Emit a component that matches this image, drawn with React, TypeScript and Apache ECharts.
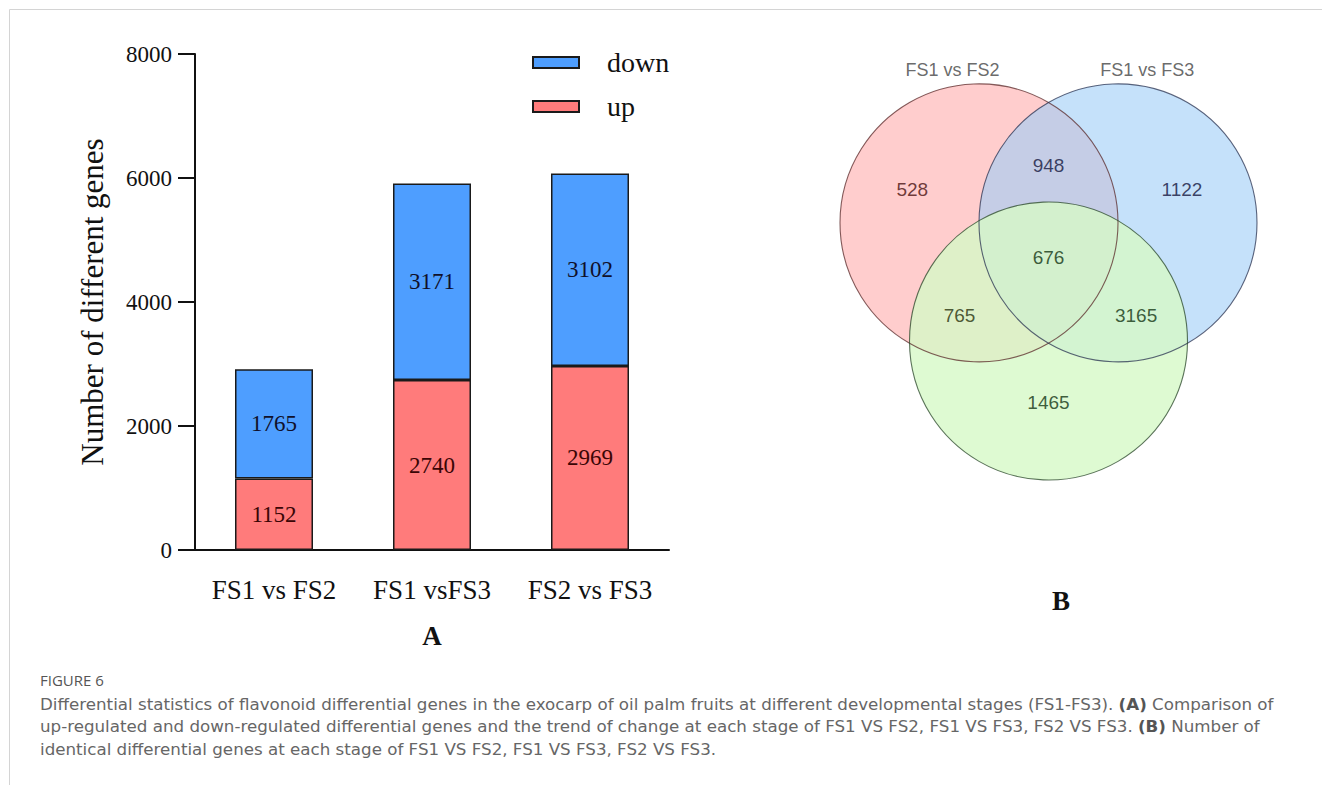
import React, { useEffect, useRef } from "react";
import * as echarts from "echarts";

// ---- Panel A data ----
const categories = ["FS1 vs FS2", "FS1 vsFS3", "FS2 vs FS3"];
const upValues = [1152, 2740, 2969];
const downValues = [1765, 3171, 3102];
const seriesNames = ["down", "up"];
const yAxisTitle = "Number of different genes";
const yMin = 0;
const yMax = 8000;
const yInterval = 2000;

// ---- Panel B data ----
const vennSetNames = ["FS1 vs FS2", "FS1 vs FS3", "FS2 vs FS3"];
const vennRegionNames = [
  "FS1 vs FS2 only",
  "FS1 vs FS2 & FS1 vs FS3",
  "FS1 vs FS3 only",
  "all three",
  "FS1 vs FS2 & FS2 vs FS3",
  "FS1 vs FS3 & FS2 vs FS3",
  "FS2 vs FS3 only",
];
const vennCounts = [528, 948, 1122, 676, 765, 3165, 1465];

// ---- Caption ----
const captionTitle = "FIGURE 6";
const captionLines = [
  "Differential statistics of flavonoid differential genes in the exocarp of oil palm fruits at different developmental stages (FS1-FS3). {b|(A)} Comparison of",
  "up-regulated and down-regulated differential genes and the trend of change at each stage of FS1 VS FS2, FS1 VS FS3, FS2 VS FS3. {b|(B)} Number of",
  "identical differential genes at each stage of FS1 VS FS2, FS1 VS FS3, FS2 VS FS3.",
];

// ---- Layout (schematic Venn positions, in Venn units) ----
const vennCenters = [
  [-0.5, 0.85],
  [0.5, 0.85],
  [0, 0],
];
const vennRadius = 1;
const vennRegionPos = [
  [-0.98, 1.09],
  [0, 1.26],
  [0.96, 1.09],
  [0, 0.6],
  [-0.64, 0.18],
  [0.63, 0.18],
  [0, -0.44],
];
const vennSetLabelPos = [
  [-0.69, 1.95],
  [0.71, 1.95],
  [0.08, -1.13],
];
const vennFills = [
  "rgba(255,155,155,0.5)",
  "rgba(158,205,247,0.6)",
  "rgba(214,249,199,0.8)",
];
const vennStrokes = ["rgba(90,40,40,0.75)", "rgba(40,50,80,0.75)", "rgba(40,70,40,0.75)"];
const vennTextColors = ["#4a1212", "#14163e", "#14163e", "#123412", "#26300c", "#123412", "#123412"];

const SERIF = "'Liberation Serif', 'Times New Roman', serif";
const SANS = "'Liberation Sans', Arial, sans-serif";
const CAPTION = "'Open Sans', Lato, sans-serif";
const CAPTION_BODY = "'DejaVu Sans', 'Open Sans', sans-serif";

export default function App() {
  const ref = useRef<HTMLDivElement>(null);

  useEffect(() => {
    if (!ref.current) return;
    const chart = echarts.init(ref.current, undefined, { renderer: "svg" });

    const option: any = {
      animation: false,
      backgroundColor: "#ffffff",
      legend: {
        data: seriesNames,
        orient: "vertical",
        left: 532,
        top: 48.5,
        padding: 0,
        itemWidth: 46,
        itemHeight: 11,
        itemGap: 16,
        icon: "rect",
        textStyle: {
          fontFamily: SERIF,
          fontSize: 28,
          lineHeight: 28,
          color: "#111",
          padding: [0, 0, 0, 23],
        },
      },
      grid: [
        { left: 195, top: 54, width: 474, height: 496 },
        { left: 840, top: 63, width: 417, height: 417 },
      ],
      xAxis: [
        {
          type: "category",
          gridIndex: 0,
          data: categories,
          axisLine: { lineStyle: { color: "#111", width: 2 } },
          axisTick: { alignWithLabel: true, length: 18, lineStyle: { color: "#111", width: 2 } },
          axisLabel: { interval: 0, fontFamily: SERIF, fontSize: 27, color: "#111", margin: 26 },
        },
        { type: "value", gridIndex: 1, min: -1.5, max: 1.5, show: false },
      ],
      yAxis: [
        {
          type: "value",
          gridIndex: 0,
          min: yMin,
          max: yMax,
          interval: yInterval,
          name: yAxisTitle,
          nameLocation: "middle",
          nameRotate: 90,
          nameGap: 87,
          nameTextStyle: { fontFamily: SERIF, fontSize: 31, color: "#111" },
          splitLine: { show: false },
          axisLine: { show: true, lineStyle: { color: "#111", width: 2 } },
          axisTick: { show: true, length: 17, lineStyle: { color: "#111", width: 2 } },
          axisLabel: {
            fontFamily: SERIF,
            fontSize: 23,
            color: "#111",
            margin: 23,
            formatter: (v: number) => String(v),
          },
        },
        { type: "value", gridIndex: 1, min: -1, max: 2, show: false },
      ],
      series: [
        {
          name: "up",
          type: "bar",
          stack: "total",
          xAxisIndex: 0,
          yAxisIndex: 0,
          barWidth: 78,
          data: upValues,
          itemStyle: { color: "#FF7B7B", borderColor: "#1a1a1a", borderWidth: 1.5 },
          label: { show: true, position: "inside", fontFamily: SERIF, fontSize: 23, color: "#3a0505" },
        },
        {
          name: "down",
          type: "bar",
          stack: "total",
          xAxisIndex: 0,
          yAxisIndex: 0,
          barWidth: 78,
          data: downValues,
          itemStyle: { color: "#4E9EFF", borderColor: "#1a1a1a", borderWidth: 1.5 },
          label: { show: true, position: "inside", fontFamily: SERIF, fontSize: 23, color: "#10102a" },
        },
        {
          name: "vennFill",
          type: "custom",
          xAxisIndex: 1,
          yAxisIndex: 1,
          silent: true,
          data: vennCenters.map((c, i) => [c[0], c[1], i]),
          encode: { x: 0, y: 1 },
          renderItem: (params: any, api: any) => {
            const p = api.coord([api.value(0), api.value(1)]);
            const r = api.size([vennRadius, 0])[0];
            const i = api.value(2);
            return {
              type: "circle",
              shape: { cx: p[0], cy: p[1], r },
              style: { fill: vennFills[i], stroke: "none" },
            };
          },
        },
        {
          name: "vennOutline",
          type: "custom",
          xAxisIndex: 1,
          yAxisIndex: 1,
          silent: true,
          data: vennCenters.map((c, i) => [c[0], c[1], i]),
          encode: { x: 0, y: 1 },
          renderItem: (params: any, api: any) => {
            const p = api.coord([api.value(0), api.value(1)]);
            const r = api.size([vennRadius, 0])[0];
            const i = api.value(2);
            return {
              type: "circle",
              shape: { cx: p[0], cy: p[1], r },
              style: { fill: "none", stroke: vennStrokes[i], lineWidth: 1.1 },
            };
          },
        },
        {
          name: "vennCounts",
          type: "scatter",
          xAxisIndex: 1,
          yAxisIndex: 1,
          silent: true,
          symbolSize: 0,
          itemStyle: { color: "transparent" },
          data: vennCounts.map((v, i) => ({
            name: vennRegionNames[i],
            value: [vennRegionPos[i][0], vennRegionPos[i][1], v],
            label: { color: vennTextColors[i] },
          })),
          label: {
            show: true,
            position: "inside",
            formatter: (p: any) => String(p.value[2]),
            fontFamily: SANS,
            fontSize: 19,
          },
        },
        {
          name: "vennSets",
          type: "scatter",
          xAxisIndex: 1,
          yAxisIndex: 1,
          silent: true,
          symbolSize: 0,
          itemStyle: { color: "transparent" },
          data: vennSetNames.map((n, i) => ({
            name: n,
            value: [vennSetLabelPos[i][0], vennSetLabelPos[i][1]],
          })),
          label: {
            show: true,
            position: "inside",
            formatter: (p: any) => p.name,
            fontFamily: SANS,
            fontSize: 18,
            color: "#444",
          },
        },
      ],
      graphic: [
        { type: "line", shape: { x1: 9.5, y1: 9.5, x2: 1322, y2: 9.5 }, style: { stroke: "#d4d4d4", lineWidth: 1 } },
        { type: "line", shape: { x1: 9.5, y1: 9.5, x2: 9.5, y2: 785 }, style: { stroke: "#d4d4d4", lineWidth: 1 } },
        {
          type: "text",
          style: { x: 432, y: 636, text: "A", fontFamily: SERIF, fontSize: 27, fontWeight: "bold", fill: "#111", align: "center", verticalAlign: "middle" },
        },
        {
          type: "text",
          style: { x: 1061, y: 601, text: "B", fontFamily: SERIF, fontSize: 27, fontWeight: "bold", fill: "#111", align: "center", verticalAlign: "middle" },
        },
        {
          type: "text",
          style: { x: 40, y: 680, text: captionTitle, fontFamily: CAPTION, fontSize: 15, fontWeight: 500, fill: "#555", verticalAlign: "middle" },
        },
        {
          type: "text",
          style: {
            x: 40,
            y: 692.1,
            text: captionLines.join("\n"),
            fontFamily: CAPTION_BODY,
            fontSize: 16.7,
            lineHeight: 22.8,
            fill: "#666",
            verticalAlign: "top",
            rich: {
              b: { fontFamily: CAPTION_BODY, fontSize: 16.7, fontWeight: "bold", lineHeight: 22.8, fill: "#555", color: "#555" },
            },
          },
        },
      ],
    };

    chart.setOption(option);
    return () => chart.dispose();
  }, []);

  return (
    <div
      ref={ref}
      style={{ position: "fixed", left: 0, top: 0, width: 1322, height: 785, background: "#fff" }}
    />
  );
}
